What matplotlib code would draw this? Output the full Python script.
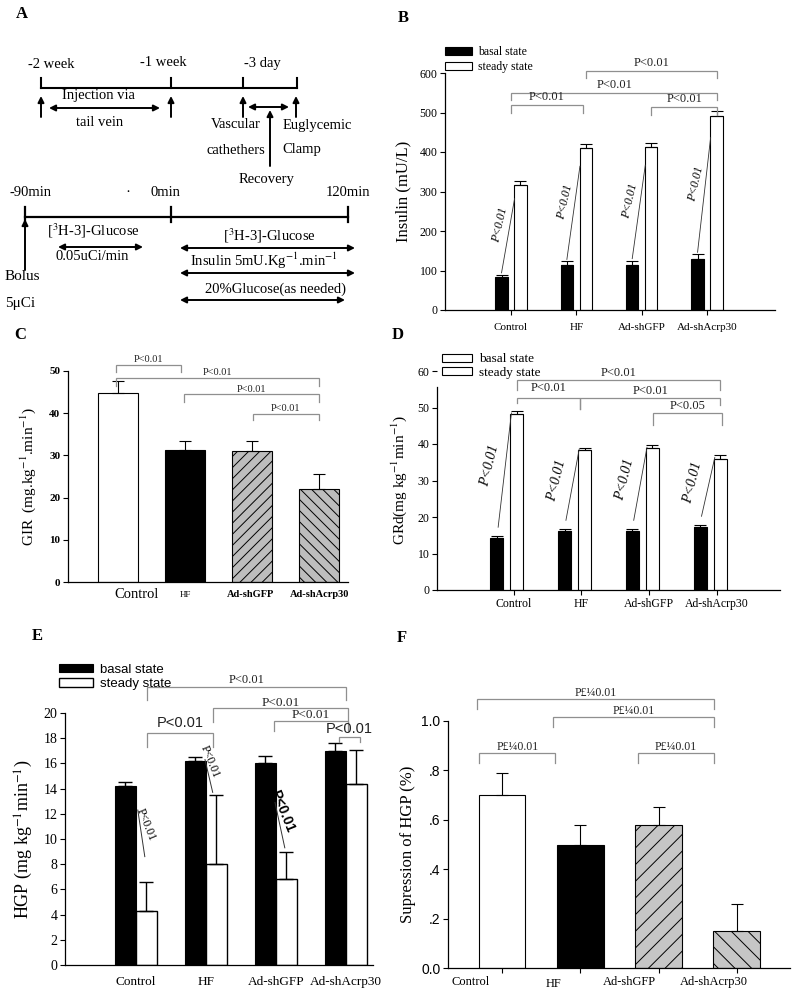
import numpy as np
import matplotlib
matplotlib.use("Agg")
import matplotlib.pyplot as plt
from matplotlib.patches import Patch

plt.rcParams['font.family'] = ['Liberation Serif', 'DejaVu Serif']
plt.rcParams['mathtext.fontset'] = 'stix'
plt.rcParams['hatch.linewidth'] = 0.7
plt.rcParams['axes.linewidth'] = 0.9

groups = ["Control", "HF", "Ad-shGFP", "Ad-shAcrp30"]

# B: insulin (mU/L)
ins_basal = [83, 113, 114, 130]
ins_basal_err = [6, 10, 11, 11]
ins_steady = [317, 409, 412, 491]
ins_steady_err = [10, 10, 12, 13]

# C: glucose infusion rate
gir = [44.7, 31.2, 31.0, 22.0]
gir_err = [3.0, 2.2, 2.3, 3.5]

# D: glucose disposal rate
grd_basal = [14.3, 16.3, 16.1, 17.2]
grd_basal_err = [0.4, 0.3, 0.5, 0.5]
grd_steady = [48.2, 38.3, 38.8, 36.0]
grd_steady_err = [0.8, 0.6, 1.0, 0.9]

# E: hepatic glucose production
hgp_basal = [14.2, 16.2, 16.0, 17.0]
hgp_basal_err = [0.3, 0.3, 0.6, 0.6]
hgp_steady = [4.3, 8.0, 6.8, 14.4]
hgp_steady_err = [2.3, 5.5, 2.2, 2.7]

# F: suppression of HGP
sup = [0.70, 0.50, 0.58, 0.15]
sup_err = [0.09, 0.08, 0.07, 0.11]

SANS = ['Liberation Sans', 'DejaVu Sans']
GREY = '#8f8f8f'


def clean(ax):
    ax.spines['top'].set_visible(False)
    ax.spines['right'].set_visible(False)
    ax.tick_params(direction='out', length=3.5, width=0.8, pad=2)


def bracket(ax, x1, x2, y, drop, text, fs=8, fam=None, off=1.5, drop2=None, weight='normal'):
    if drop2 is None:
        drop2 = drop
    ax.plot([x1, x1, x2, x2], [y - drop, y, y, y - drop2], color=GREY, lw=0.9,
            clip_on=False, solid_joinstyle='miter')
    kw = {}
    if fam is not None:
        kw['family'] = fam
    ax.annotate(text, xy=((x1 + x2) / 2, y), xytext=(0, off), textcoords='offset points',
                ha='center', va='bottom', fontsize=fs, color='#222222',
                annotation_clip=False, weight=weight, **kw)


def one_sided(err):
    return [np.zeros(len(err)), err]


fig = plt.figure(figsize=(7.97, 9.93), dpi=100)
W, H = 797.0, 993.0


def box(x0, y_top, x1, y_bot):
    return [x0 / W, 1 - y_bot / H, (x1 - x0) / W, (y_bot - y_top) / H]


# ---------------- A: protocol schematic ----------------
axA = fig.add_axes(box(0, 0, 400, 320))
axA.set_xlim(0, 400)
axA.set_ylim(320, 0)
axA.axis('off')
fsA = 10.5


def arrow(ax, x1, y1, x2, y2, style='-|>'):
    ax.annotate('', xy=(x2, y2), xytext=(x1, y1),
                arrowprops=dict(arrowstyle=style, color='k', lw=1.4,
                                mutation_scale=9, shrinkA=0, shrinkB=0))


axA.plot([41, 297], [88, 88], color='k', lw=1.5)
for xt in [41, 171, 243, 297]:
    axA.plot([xt, xt], [78, 88], color='k', lw=1.5)
axA.text(51, 64, "-2 week", ha='center', va='center', fontsize=fsA)
axA.text(163, 63, "-1 week", ha='center', va='center', fontsize=fsA)
axA.text(262, 63, "-3 day", ha='center', va='center', fontsize=fsA)
for xt in [41, 171, 243, 296]:
    arrow(axA, xt, 117, xt, 96)
arrow(axA, 49, 108, 160, 108, '<|-|>')
axA.text(98, 96, "Injection via", ha='center', va='center', fontsize=fsA)
axA.text(100, 122, "tail vein", ha='center', va='center', fontsize=fsA)
arrow(axA, 248, 107, 289, 107, '<|-|>')
arrow(axA, 270, 166, 270, 110)
axA.text(236, 125, "Vascular", ha='center', va='center', fontsize=fsA)
axA.text(236, 150, "cathethers", ha='center', va='center', fontsize=fsA)
axA.text(317, 125, "Euglycemic", ha='center', va='center', fontsize=fsA)
axA.text(282, 150, "Clamp", ha='left', va='center', fontsize=fsA)
axA.text(267, 180, "Recovery", ha='center', va='center', fontsize=fsA)

axA.plot([25, 348], [217, 217], color='k', lw=1.6)
for xt in [25, 171, 348]:
    axA.plot([xt, xt], [207, 222], color='k', lw=1.6)
axA.text(30, 193, "-90min", ha='center', va='center', fontsize=fsA)
axA.text(128, 193, "\u00b7", ha='center', va='center', fontsize=fsA)
axA.text(165, 193, "0min", ha='center', va='center', fontsize=fsA)
axA.text(348, 193, "120min", ha='center', va='center', fontsize=fsA)
arrow(axA, 25, 270, 25, 219)
axA.text(5, 277, "Bolus", ha='left', va='center', fontsize=fsA + 0.5)
axA.text(5, 303, "5\u03bcCi", ha='left', va='center', fontsize=fsA + 0.5)
axA.text(47, 231, "[$^{3}$H-3]-Glucose", ha='left', va='center', fontsize=fsA)
arrow(axA, 58, 247, 143, 247, '<|-|>')
axA.text(92, 256, "0.05uCi/min", ha='center', va='center', fontsize=fsA)
axA.text(269, 236, "[$^{3}$H-3]-Glucose", ha='center', va='center', fontsize=fsA)
arrow(axA, 180, 248, 355, 248, '<|-|>')
axA.text(264, 261, "Insulin 5mU.Kg$^{-1}$.min$^{-1}$", ha='center', va='center', fontsize=fsA)
arrow(axA, 180, 273, 355, 273, '<|-|>')
axA.text(275, 289, "20%Glucose(as needed)", ha='center', va='center', fontsize=fsA)
arrow(axA, 180, 300, 345, 300, '<|-|>')

# ---------------- B: insulin ----------------
axB = fig.add_axes(box(445, 73, 775, 310))
clean(axB)
x = np.arange(len(groups))
off, bw = 0.145, 0.19
axB.bar(x - off, ins_basal, bw, color='black', edgecolor='black', lw=0.8,
        yerr=one_sided(ins_basal_err), capsize=4, error_kw=dict(lw=0.8, capthick=0.8))
axB.bar(x + off, ins_steady, bw, color='white', edgecolor='black', lw=0.8,
        yerr=one_sided(ins_steady_err), capsize=4, error_kw=dict(lw=0.8, capthick=0.8))
axB.set_xlim(-1.01, 4.04)
axB.set_ylim(0, 600)
axB.set_yticks(range(0, 601, 100))
axB.set_xticks(x)
axB.set_xticklabels(groups, fontsize=8)
axB.tick_params(axis='y', labelsize=8.5)
axB.tick_params(axis='x', pad=6)
axB.set_ylabel("Insulin (mU/L)", fontsize=12, labelpad=6)
for i in range(len(groups)):
    x0, y0 = i - off, ins_basal[i] + ins_basal_err[i] + 5
    x1, y1 = i + off - 0.09, ins_steady[i] * 0.89
    axB.plot([x0, x1], [y0, y1], color='#333333', lw=0.6)
    axB.annotate("P<0.01", xy=((x0 + x1) / 2, (y0 + y1) / 2), xytext=(-6, 8),
                 textcoords='offset points', rotation=77, ha='center', va='center',
                 fontsize=8.5, style='italic')
bracket(axB, 0, 1.1, 519, 20, "P<0.01", fs=9)
bracket(axB, 0, 3.16, 549, 18, "P<0.01", fs=9)
bracket(axB, 1.15, 3.16, 605, 18, "P<0.01", fs=9)
bracket(axB, 2.15, 3.16, 514, 20, "P<0.01", fs=9)
axB.legend(handles=[Patch(fc='black', ec='black', lw=0.8, label='basal state'),
                    Patch(fc='white', ec='black', lw=0.8, label='steady state')],
           loc='lower left', bbox_to_anchor=(0, 1.0), frameon=False, fontsize=8.5,
           handlelength=2.3, handleheight=0.6, handletextpad=0.5, labelspacing=0.25,
           borderpad=0, borderaxespad=0)

# ---------------- C: GIR ----------------
axC = fig.add_axes(box(68, 371, 348, 582))
clean(axC)
cw = 0.6
colsC = ['white', 'black', '#bdbdbd', '#bdbdbd']
hatchC = ['', '', '///', '\\\\\\']
barsC = axC.bar(x, gir, cw, color=colsC, edgecolor='black', lw=0.8,
                yerr=one_sided(gir_err), capsize=4, error_kw=dict(lw=0.8, capthick=0.8))
for b, h in zip(barsC, hatchC):
    b.set_hatch(h)
axC.set_xlim(-0.746, 3.43)
axC.set_ylim(0, 50)
axC.set_yticks(range(0, 51, 10))
axC.set_xticks([])
for lab in axC.get_yticklabels():
    lab.set_fontweight('bold')
    lab.set_fontsize(8)
axC.set_ylabel("GIR  (mg.kg$^{-1}$.min$^{-1}$)", fontsize=11, labelpad=8)
trC = axC.get_xaxis_transform()
axC.text(0.28, -0.06, groups[0], transform=trC, ha='center', va='center', fontsize=10.5)
axC.text(1.0, -0.06, groups[1], transform=trC, ha='center', va='center', fontsize=6.5)
axC.text(1.97, -0.06, groups[2], transform=trC, ha='center', va='center', fontsize=7.5, weight='bold')
axC.text(3.0, -0.06, groups[3], transform=trC, ha='center', va='center', fontsize=7.5, weight='bold')
bracket(axC, -0.03, 0.94, 51.4, 1.6, "P<0.01", fs=7.5, off=0.5)
bracket(axC, -0.03, 3.0, 48.3, 1.9, "P<0.01", fs=7.5, off=0.5)
bracket(axC, 0.985, 3.0, 44.5, 1.9, "P<0.01", fs=7.5, off=0.5)
bracket(axC, 2.01, 3.0, 39.8, 1.4, "P<0.01", fs=7.5, off=0.5)

# ---------------- D: GRd ----------------
axD = fig.add_axes(box(437, 371, 780, 590))
clean(axD)
offD, bwD = 0.148, 0.19
axD.bar(x - offD, grd_basal, bwD, color='black', edgecolor='black', lw=0.8,
        yerr=one_sided(grd_basal_err), capsize=4, error_kw=dict(lw=0.8, capthick=0.8))
axD.bar(x + offD, grd_steady, bwD, color='white', edgecolor='black', lw=0.8,
        yerr=one_sided(grd_steady_err), capsize=4, error_kw=dict(lw=0.8, capthick=0.8))
axD.set_xlim(-1.03, 4.03)
axD.set_ylim(0, 60)
axD.spines['left'].set_bounds(0, 55.6)
axD.set_yticks(range(0, 61, 10))
axD.set_xticks(x + 0.1)
axD.set_xticklabels(groups, fontsize=8.5)
axD.tick_params(axis='y', labelsize=8.5)
axD.set_ylabel("GRd(mg kg$^{-1}$min$^{-1}$)", fontsize=11, labelpad=6)
for i in range(len(groups)):
    x0, y0 = i - offD + 0.02, grd_basal[i] + grd_basal_err[i] + 2.5
    x1, y1 = i + offD - 0.08, grd_steady[i] + 0.3
    axD.plot([x0, x1], [y0, y1], color='#333333', lw=0.6)
    axD.annotate("P<0.01", xy=((x0 + x1) / 2, (y0 + y1) / 2), xytext=(-11, 3),
                 textcoords='offset points', rotation=76, ha='center', va='center',
                 fontsize=10, style='italic')
bracket(axD, 0.148, 3.15, 57.5, 2.7, "P<0.01", fs=9, off=1)
bracket(axD, 0.148, 1.08, 52.6, 1.5, "P<0.01", fs=9, off=3, drop2=3.0)
bracket(axD, 1.08, 3.15, 52.6, 3.0, "P<0.01", fs=9, off=0.5, drop2=1.9)
bracket(axD, 2.16, 3.18, 48.5, 3.3, "P<0.05", fs=9, off=0.5)
axD.legend(handles=[Patch(fc='white', ec='black', lw=0.8, label='basal state'),
                    Patch(fc='white', ec='black', lw=0.8, label='steady state')],
           loc='lower left', bbox_to_anchor=(0.015, 0.965), frameon=False, fontsize=9.5,
           handlelength=2.3, handleheight=0.6, handletextpad=0.5, labelspacing=0.1,
           borderpad=0, borderaxespad=0)

# ---------------- E: HGP ----------------
axE = fig.add_axes(box(65, 713, 373, 965))
clean(axE)
offE, bwE = 0.15, 0.3
axE.bar(x - offE, hgp_basal, bwE, color='black', edgecolor='black', lw=0.8,
        yerr=one_sided(hgp_basal_err), capsize=5, error_kw=dict(lw=1.0, capthick=1.0))
axE.bar(x + offE, hgp_steady, bwE, color='white', edgecolor='black', lw=1.0,
        yerr=one_sided(hgp_steady_err), capsize=5, error_kw=dict(lw=1.0, capthick=1.0))
axE.set_xlim(-1.01, 3.39)
axE.set_ylim(0, 20)
axE.set_yticks(range(0, 21, 2))
axE.set_xticks(x)
axE.tick_params(axis='x', length=0, pad=8)
axE.set_xticklabels(groups, fontsize=9.5)
axE.tick_params(axis='y', labelsize=10)
axE.set_ylabel("HGP (mg kg$^{-1}$min$^{-1}$)", fontsize=13, labelpad=6)
# connector lines between basal and steady bars (annotation layout)
e_lines = [(0.03, 12.3, 0.13, 8.6), (-0.01, 16.3, 0.10, 13.7), (-0.01, 12.9, 0.13, 9.3)]
e_txt_off = [(3, 6), (1, 10), (2, 10)]
for i, ((a, ya, b, yb), toff) in enumerate(zip(e_lines, e_txt_off)):
    axE.plot([i + a, i + b], [ya, yb], color='#333333', lw=0.7)
    kw = {'family': SANS, 'weight': 'bold', 'fontsize': 10} if i == 2 else {'fontsize': 8.5}
    axE.annotate("P<0.01", xy=(i + (a + b) / 2, (ya + yb) / 2), xytext=toff,
                 textcoords='offset points', rotation=-68, ha='center', va='center', **kw)
bracket(axE, 0.157, 3.0, 22.06, 1.0, "P<0.01", fs=9, off=1)
bracket(axE, 0.157, 1.11, 18.4, 1.1, "P<0.01", fs=10.5, fam=SANS, off=2)
bracket(axE, 1.11, 3.03, 20.4, 1.1, "P<0.01", fs=9.5, off=-0.5)
bracket(axE, 1.97, 3.03, 19.4, 0.8, "P<0.01", fs=9.5, off=-0.5)
bracket(axE, 2.9, 3.21, 18.1, 0.4, "P<0.01", fs=10.5, fam=SANS, off=0.5)
axE.legend(handles=[Patch(fc='black', ec='black', lw=0.8, label='basal state'),
                    Patch(fc='white', ec='black', lw=1.0, label='steady state')],
           loc='lower left', bbox_to_anchor=(-0.02, 1.09), frameon=False,
           prop={'family': SANS, 'size': 9.5},
           handlelength=2.6, handleheight=0.6, handletextpad=0.5, labelspacing=0.2,
           borderpad=0, borderaxespad=0)

# ---------------- F: suppression of HGP ----------------
axF = fig.add_axes(box(448, 721, 790, 968))
clean(axF)
colsF = ['white', 'black', '#c6c6c6', '#c6c6c6']
hatchF = ['', '', '//', '\\\\']
barsF = axF.bar(x, sup, 0.6, color=colsF, edgecolor='black', lw=0.8,
                yerr=one_sided(sup_err), capsize=4, error_kw=dict(lw=0.8, capthick=0.8))
for b, h in zip(barsF, hatchF):
    b.set_hatch(h)
axF.set_xlim(-0.69, 3.68)
axF.set_ylim(0, 1.0)
axF.set_yticks([0, 0.2, 0.4, 0.6, 0.8, 1.0])
axF.set_yticklabels(["0.0", ".2", ".4", ".6", ".8", "1.0"], family=SANS, fontsize=10)
axF.set_xticks(x)
axF.set_xticklabels([])
axF.set_ylabel("Supression of HGP (%)", fontsize=12, labelpad=4)
trF = axF.get_xaxis_transform()
for i, (dx, dy) in enumerate([(-0.4, -0.055), (-0.34, -0.065), (-0.37, -0.055), (-0.29, -0.055)]):
    axF.text(i + dx, dy, groups[i], transform=trF, ha='center', va='center', fontsize=9)
bracket(axF, -0.32, 2.71, 1.089, 0.04, "P\u00a3\u00bc0.01", fs=8.5, off=0)
bracket(axF, 0.65, 2.71, 1.016, 0.04, "P\u00a3\u00bc0.01", fs=8.5, off=0)
bracket(axF, -0.29, 0.68, 0.87, 0.04, "P\u00a3\u00bc0.01", fs=8.5, off=0)
bracket(axF, 1.74, 2.71, 0.87, 0.04, "P\u00a3\u00bc0.01", fs=8.5, off=0)

# panel letters
for lab, px, py in [("A", 22, 14), ("B", 403, 18), ("C", 20, 335), ("D", 398, 335),
                    ("E", 37, 636), ("F", 402, 638)]:
    fig.text(px / W, 1 - py / H, lab, ha='center', va='center', fontsize=12, weight='bold')

fig.savefig("out.png", dpi=100)
